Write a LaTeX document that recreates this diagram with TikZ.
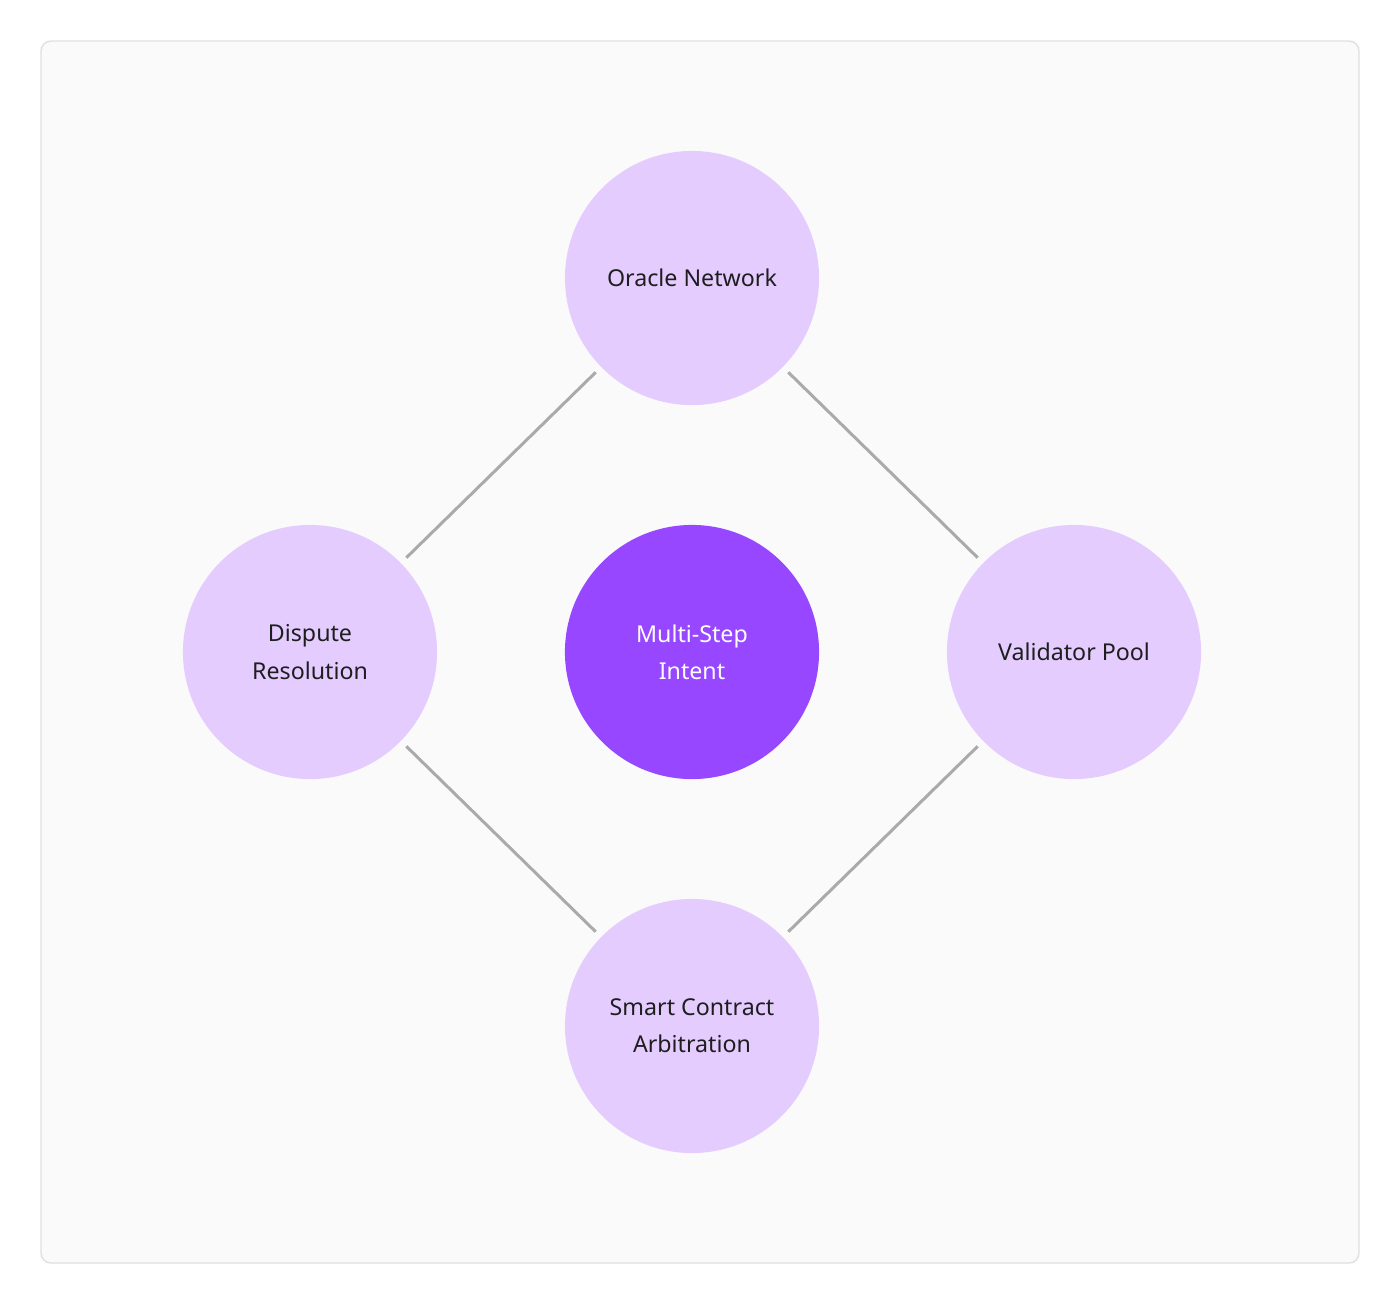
\documentclass[tikz,border=0pt]{standalone}
\usepackage{fontspec}
\setmainfont{Noto Sans}
\definecolor{framefill}{HTML}{FAFAFA}
\definecolor{frameline}{HTML}{E0E0E0}
\definecolor{lilac}{HTML}{E5CCFF}
\definecolor{violet}{HTML}{9747FF}
\definecolor{ink}{HTML}{1E1E1E}
\definecolor{linkgray}{HTML}{AAAAAA}
\tikzset{
    outer/.style={circle, fill=lilac, minimum size=2.54cm, inner sep=0pt, align=center, text=ink, font=\fontsize{6.6}{10.6}\selectfont},
    hub/.style={outer, fill=violet, text=white},
    link/.style={draw=linkgray, line width=0.85pt, shorten <=0.07cm, shorten >=0.07cm}
}
\begin{document}
\begin{tikzpicture}[x=0.01cm,y=-0.01cm]
        \useasboundingbox (0,0) rectangle (1400,1305);

        %Frame
        \draw[frameline, fill=framefill, line width=0.4pt, rounded corners=0.1cm] (41,41) rectangle (1359,1263);

        %Circles
        \node[outer] (oracle) at (692,278) {Oracle Network};
        \node[outer] (dispute) at (310,652) {Dispute\\Resolution};
        \node[hub] (intent) at (692,652) {Multi-Step\\Intent};
        \node[outer] (validator) at (1074,652) {Validator Pool};
        \node[outer] (arbitration) at (692,1026) {Smart Contract\\Arbitration};

        %Links
        \draw[link] (oracle) -- (dispute);
        \draw[link] (oracle) -- (validator);
        \draw[link] (dispute) -- (arbitration);
        \draw[link] (validator) -- (arbitration);
    \end{tikzpicture}
\end{document}
